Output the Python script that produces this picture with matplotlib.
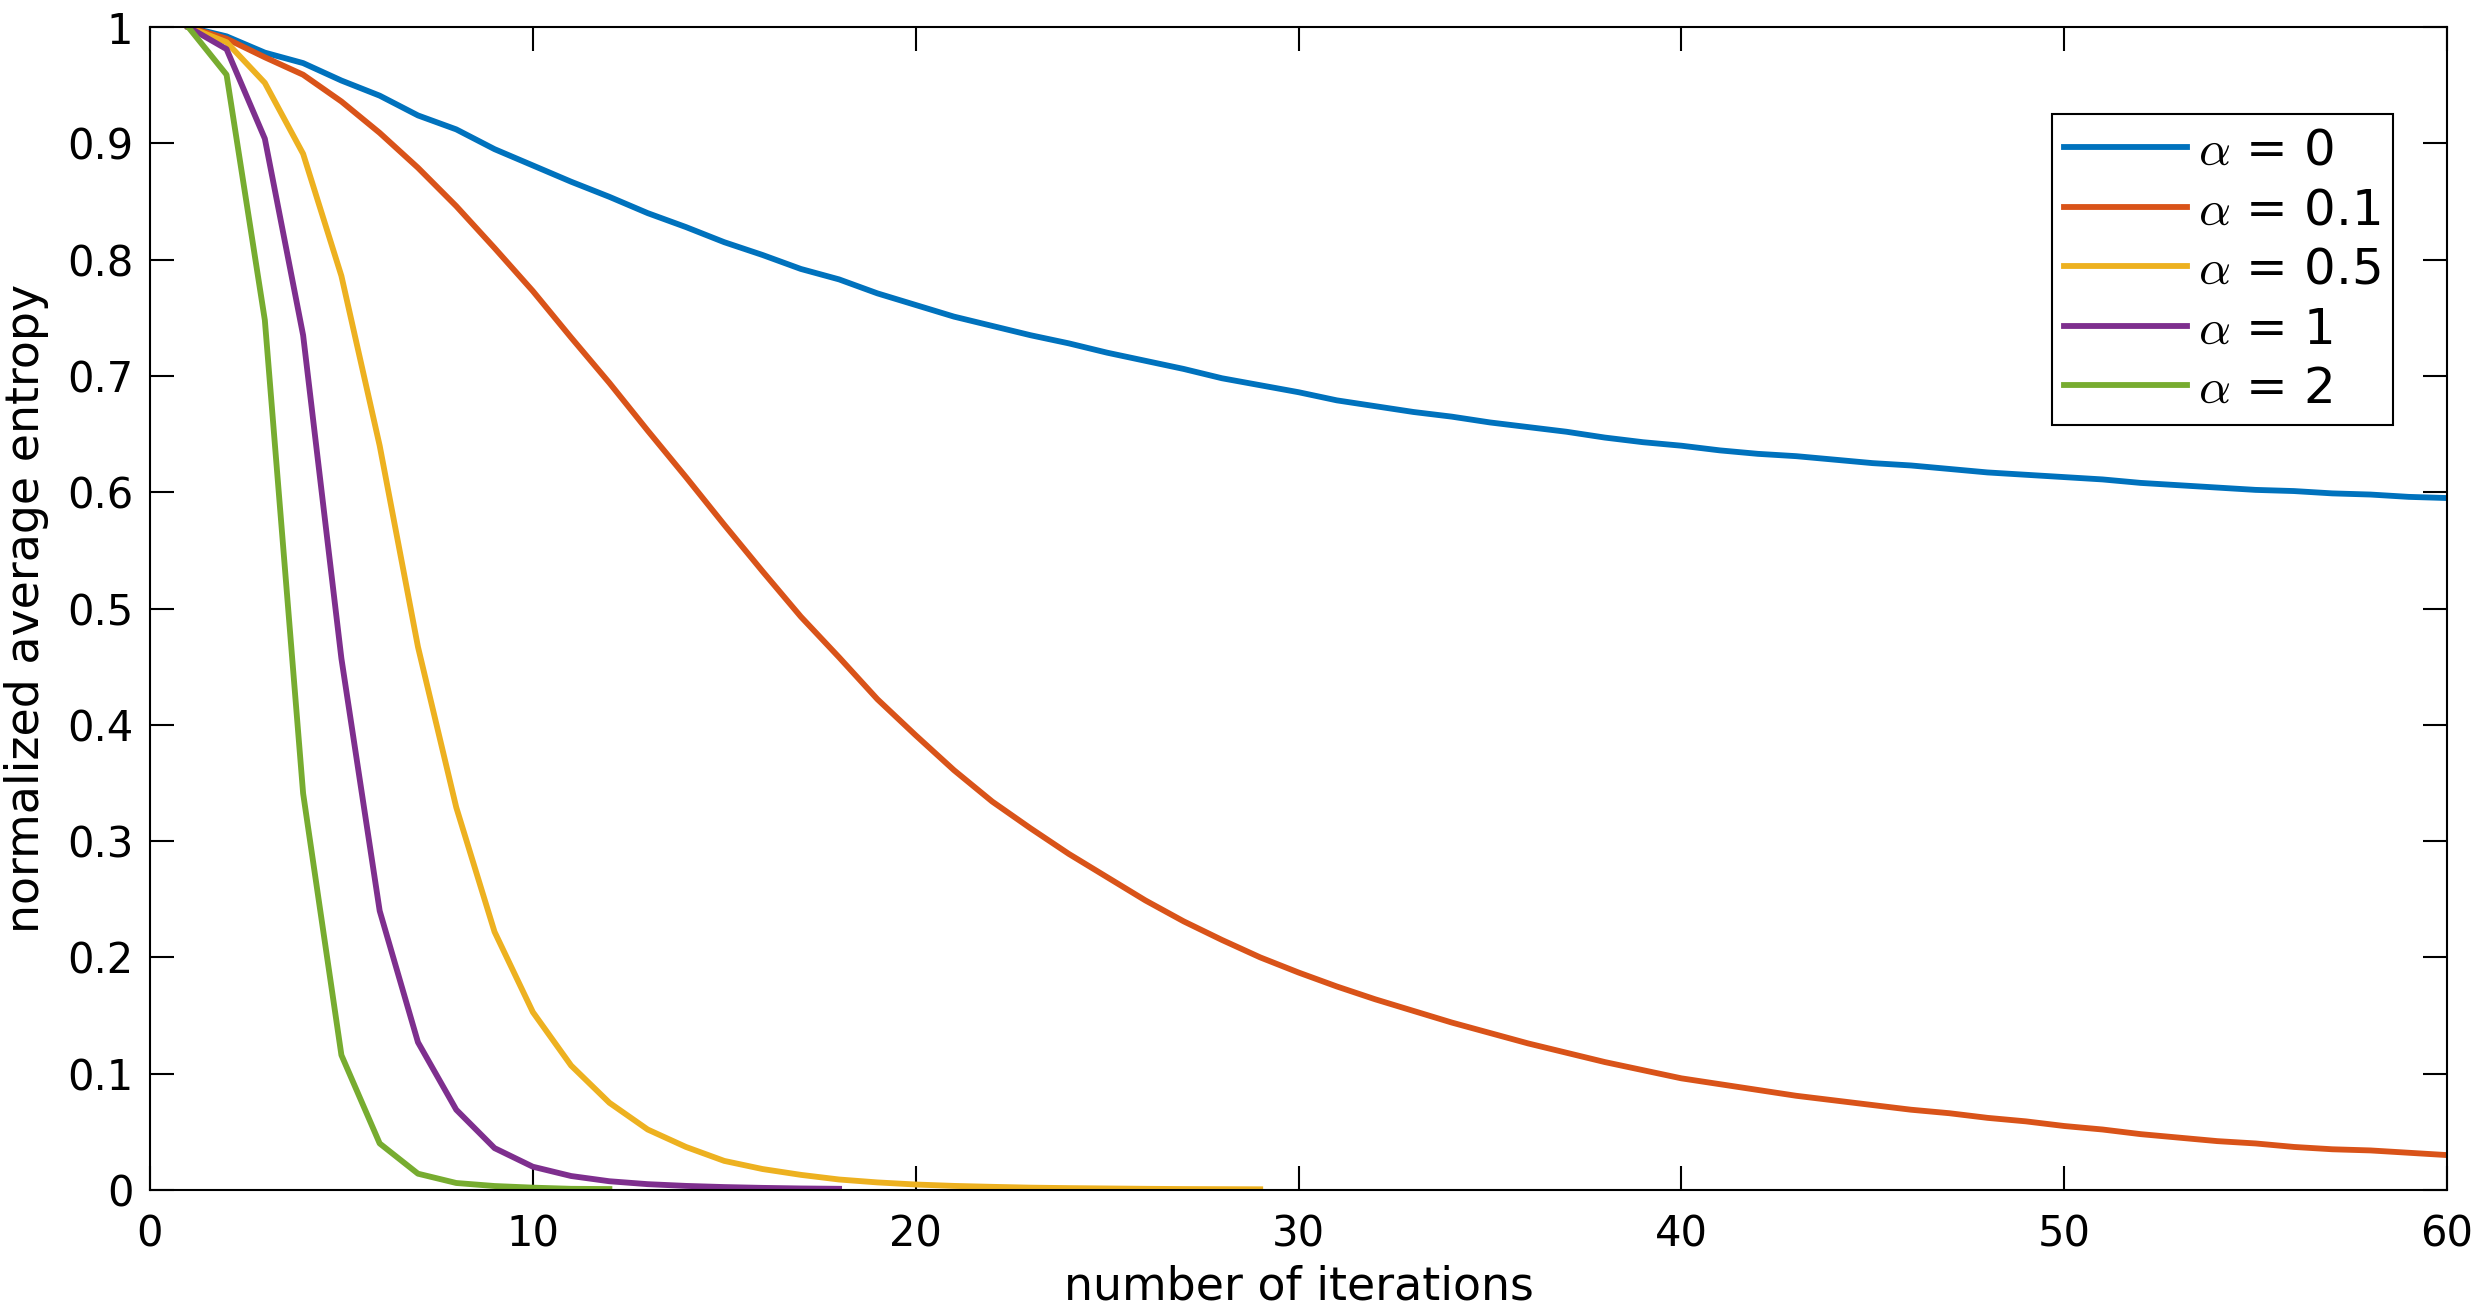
import numpy as np
import matplotlib
matplotlib.use("Agg")
import matplotlib.pyplot as plt

# values, one per iteration starting at 1
alpha_labels = [r"$\alpha$ = 0", r"$\alpha$ = 0.1", r"$\alpha$ = 0.5", r"$\alpha$ = 1", r"$\alpha$ = 2"]
colors = ["#0072BD", "#D95319", "#EDB120", "#7E2F8E", "#77AC30"]

entropy_a0 = [1.0, 0.992, 0.978, 0.969, 0.954, 0.941, 0.924, 0.912, 0.895, 0.881,
              0.867, 0.854, 0.840, 0.828, 0.815, 0.804, 0.792, 0.783, 0.771, 0.761,
              0.751, 0.743, 0.735, 0.728, 0.720, 0.713, 0.706, 0.698, 0.692, 0.686,
              0.679, 0.674, 0.669, 0.665, 0.660, 0.656, 0.652, 0.647, 0.643, 0.640,
              0.636, 0.633, 0.631, 0.628, 0.625, 0.623, 0.620, 0.617, 0.615, 0.613,
              0.611, 0.608, 0.606, 0.604, 0.602, 0.601, 0.599, 0.598, 0.596, 0.595]

entropy_a01 = [1.0, 0.990, 0.974, 0.959, 0.936, 0.909, 0.879, 0.846, 0.810, 0.773,
               0.733, 0.694, 0.653, 0.613, 0.572, 0.532, 0.493, 0.458, 0.422, 0.391,
               0.361, 0.334, 0.311, 0.289, 0.269, 0.249, 0.231, 0.215, 0.200, 0.187,
               0.175, 0.164, 0.154, 0.144, 0.135, 0.126, 0.118, 0.110, 0.103, 0.096,
               0.091, 0.086, 0.081, 0.077, 0.073, 0.069, 0.066, 0.062, 0.059, 0.055,
               0.052, 0.048, 0.045, 0.042, 0.040, 0.037, 0.035, 0.034, 0.032, 0.030]

entropy_a05 = [1.0, 0.987, 0.952, 0.891, 0.786, 0.640, 0.467, 0.329, 0.222, 0.153,
               0.107, 0.075, 0.052, 0.037, 0.025, 0.018, 0.013, 0.009, 0.0065, 0.0047,
               0.0035, 0.0027, 0.002, 0.0016, 0.0013, 0.001, 0.0008, 0.0007, 0.0006]

entropy_a1 = [1.0, 0.981, 0.904, 0.735, 0.457, 0.240, 0.127, 0.069, 0.036, 0.020,
              0.012, 0.0075, 0.005, 0.0035, 0.0025, 0.0018, 0.0013, 0.001]

entropy_a2 = [1.0, 0.959, 0.748, 0.341, 0.116, 0.040, 0.014, 0.006, 0.0034, 0.002,
              0.001, 0.0008]

series = [entropy_a0, entropy_a01, entropy_a05, entropy_a1, entropy_a2]

xticks = [0, 10, 20, 30, 40, 50, 60]
yticks = [0, 0.1, 0.2, 0.3, 0.4, 0.5, 0.6, 0.7, 0.8, 0.9, 1]
ytick_labels = ["0", "0.1", "0.2", "0.3", "0.4", "0.5", "0.6", "0.7", "0.8", "0.9", "1"]

plt.rcParams["mathtext.fontset"] = "cm"

fig = plt.figure(figsize=(24.75, 13.13), dpi=100)
ax = fig.add_axes([0.0606, 0.0937, 0.9281, 0.8857])

for vals, lab, c in zip(series, alpha_labels, colors):
    x = np.arange(1, len(vals) + 1)
    ax.plot(x, vals, color=c, linewidth=4.2, label=lab)

ax.set_xlim(0, 60)
ax.set_ylim(0, 1)
ax.set_xticks(xticks)
ax.set_yticks(yticks)
ax.set_yticklabels(ytick_labels)
ax.tick_params(direction="in", length=17, width=1.5, top=True, right=True,
               labelsize=30)
ax.tick_params(axis="x", pad=17)
ax.tick_params(axis="y", pad=12)
for s in ax.spines.values():
    s.set_linewidth(1.5)

ax.set_xlabel("number of iterations", fontsize=33)
ax.set_ylabel("normalized average entropy", fontsize=33)
ax.xaxis.set_label_coords(0.5, -0.064)
ax.yaxis.set_label_coords(-0.044, 0.5)

leg = ax.legend(loc="upper right", bbox_to_anchor=(0.9766, 0.925), borderaxespad=0,
                fontsize=36, handlelength=2.46, handletextpad=0.22, borderpad=0.25,
                labelspacing=0.23, fancybox=False, framealpha=1)
leg.get_frame().set_edgecolor("black")
leg.get_frame().set_linewidth(1.5)

fig.savefig("out.png", dpi=100)
